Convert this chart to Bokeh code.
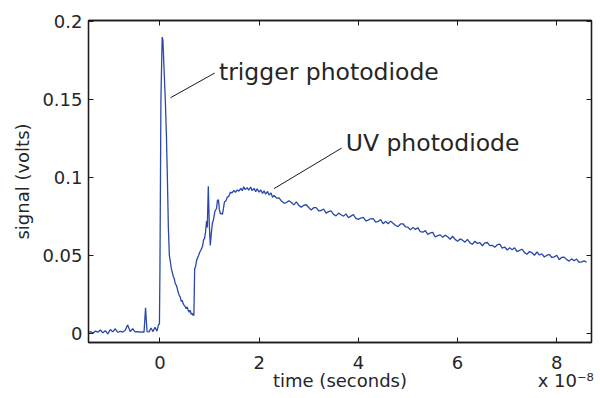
import numpy as np
from bokeh.plotting import figure
from bokeh.models import Range1d, LinearAxis, FixedTicker, Label, ColumnDataSource
from bokeh.embed import file_html
from bokeh.resources import INLINE

# time in units of 1e-8 s, signal in volts
base_t = [-1.45, -1.40, -1.35, -1.30, -1.25, -1.20, -1.15, -1.10, -1.05, -1.00,
          -0.95, -0.90, -0.85, -0.80, -0.75, -0.70, -0.65, -0.60, -0.55, -0.50,
          -0.45, -0.40, -0.35, -0.32, -0.29, -0.26, -0.22, -0.18, -0.14, -0.10,
          -0.06, -0.03]
base_v = [0.0005, 0.0012, 0.0003, 0.0015, 0.0008, 0.0022, 0.0004, 0.0018, -0.0003, 0.0025,
          0.0010, 0.0030, 0.0006, 0.0014, 0.0009, 0.0020, 0.0055, 0.0012, 0.0030, 0.0010,
          0.0012, 0.0008, 0.0010, 0.0009, 0.0165, 0.0012, 0.0010, 0.0035, 0.0012, 0.0040,
          0.0015, 0.0055]

pulse_t = [-0.01, 0.00, 0.02, 0.045, 0.06, 0.08, 0.11, 0.13, 0.15, 0.17,
           0.19, 0.21, 0.23, 0.25, 0.27, 0.29, 0.31, 0.33, 0.35, 0.37,
           0.39, 0.41, 0.43, 0.45, 0.47, 0.49, 0.51, 0.53, 0.55, 0.57,
           0.59, 0.61, 0.63, 0.65, 0.67, 0.685, 0.70, 0.72, 0.74, 0.76,
           0.78, 0.80, 0.82, 0.84, 0.86, 0.88, 0.90, 0.92, 0.94, 0.955,
           0.975, 0.995, 1.015, 1.035, 1.056, 1.08, 1.11, 1.14, 1.16, 1.18,
           1.20, 1.22, 1.24, 1.26, 1.28, 1.30, 1.33, 1.36, 1.39, 1.42,
           1.45, 1.49, 1.52, 1.56, 1.59, 1.63, 1.66, 1.69, 1.72, 1.76,
           1.79, 1.83, 1.86, 1.90, 1.93, 1.96, 2.00, 2.03, 2.07, 2.10,
           2.13, 2.17, 2.20, 2.24, 2.27, 2.30]
pulse_v = [0.0060, 0.0400, 0.1500, 0.1900, 0.1880, 0.1720, 0.1480, 0.1280, 0.1000, 0.0680,
           0.0500, 0.0460, 0.0415, 0.0390, 0.0365, 0.0350, 0.0318, 0.0310, 0.0288, 0.0262,
           0.0244, 0.0232, 0.0205, 0.0212, 0.0190, 0.0180, 0.0172, 0.0158, 0.0170, 0.0148,
           0.0137, 0.0149, 0.0122, 0.0130, 0.0115, 0.0118, 0.0415, 0.0430, 0.0470, 0.0485,
           0.0500, 0.0520, 0.0530, 0.0545, 0.0560, 0.0600, 0.0610, 0.0650, 0.0720, 0.0680,
           0.0944, 0.0700, 0.0564, 0.0640, 0.0703, 0.0730, 0.0785, 0.0800, 0.0853, 0.0856,
           0.0790, 0.0767, 0.0770, 0.0763, 0.0800, 0.0842, 0.0850, 0.0874, 0.0880, 0.0906,
           0.0900, 0.0917, 0.0905, 0.0920, 0.0912, 0.0930, 0.0915, 0.0940, 0.0922, 0.0935,
           0.0918, 0.0938, 0.0915, 0.0930, 0.0908, 0.0927, 0.0905, 0.0920, 0.0898, 0.0915,
           0.0893, 0.0910, 0.0888, 0.0900, 0.0872, 0.0885]

tail_start = 2.35
tail_step = 0.05
tail_v = [0.0868, 0.0869, 0.0849, 0.0836, 0.0839, 0.0851, 0.0839, 0.0824, 0.0844, 0.0821,
          0.0809, 0.0822, 0.0825, 0.0807, 0.0791, 0.0806, 0.0806, 0.0786, 0.0788, 0.0798,
          0.0771, 0.0781, 0.0785, 0.0763, 0.0754, 0.0771, 0.0761, 0.0752, 0.0766, 0.0742,
          0.0752, 0.0762, 0.0737, 0.0731, 0.0740, 0.0744, 0.0721, 0.0727, 0.0735, 0.0736,
          0.0714, 0.0718, 0.0730, 0.0703, 0.0717, 0.0703, 0.0720, 0.0706, 0.0692, 0.0685,
          0.0702, 0.0703, 0.0683, 0.0681, 0.0664, 0.0680, 0.0666, 0.0678, 0.0652, 0.0649,
          0.0659, 0.0635, 0.0644, 0.0648, 0.0618, 0.0627, 0.0632, 0.0616, 0.0630, 0.0620,
          0.0604, 0.0623, 0.0603, 0.0591, 0.0606, 0.0598, 0.0585, 0.0603, 0.0581, 0.0572,
          0.0591, 0.0577, 0.0582, 0.0562, 0.0581, 0.0583, 0.0563, 0.0565, 0.0553, 0.0569,
          0.0572, 0.0547, 0.0554, 0.0535, 0.0550, 0.0537, 0.0549, 0.0525, 0.0532, 0.0540,
          0.0518, 0.0508, 0.0525, 0.0517, 0.0501, 0.0522, 0.0503, 0.0510, 0.0490, 0.0501,
          0.0507, 0.0487, 0.0491, 0.0501, 0.0473, 0.0488, 0.0489, 0.0473, 0.0464, 0.0478,
          0.0466, 0.0477, 0.0456, 0.0459, 0.0465, 0.0457]

x_ticks = [0, 2, 4, 6, 8]
x_labels = ["0", "2", "4", "6", "8"]
y_ticks = [0, 0.05, 0.1, 0.15, 0.2]
y_labels = ["0", "0.05", "0.1", "0.15", "0.2"]
x_title = "time (seconds)"
x_exponent = "x 10\u207b\u2078"
y_title = "signal (volts)"

tail_t = list(np.round(tail_start + tail_step * np.arange(len(tail_v)), 3))
t_all = base_t + pulse_t + tail_t
v_all = base_v + pulse_v + tail_v

FONT = "DejaVu Sans"
TXT = "#262626"
X_MIN, X_MAX = -1.44, 8.70

p = figure(width=600, height=398, output_backend="svg", toolbar_location=None,
           x_range=Range1d(X_MIN, X_MAX), y_range=Range1d(-0.0058, 0.2006),
           min_border_left=88, min_border_right=9, min_border_top=20, min_border_bottom=56,
           x_axis_location=None, y_axis_location=None)
p.grid.visible = False
p.outline_line_color = "#1a1a1a"
p.outline_line_width = 1.3
p.background_fill_color = "white"
p.border_fill_color = "white"

def make_axis(ticks, labels, show_labels):
    ax = LinearAxis(ticker=FixedTicker(ticks=ticks))
    ax.major_label_overrides = {t: (l if show_labels else "") for t, l in zip(ticks, labels)}
    ax.major_tick_in = 5
    ax.major_tick_out = 0
    ax.minor_tick_in = 0
    ax.minor_tick_out = 0
    ax.major_tick_line_color = "#1a1a1a"
    ax.axis_line_color = "#1a1a1a"
    ax.axis_line_width = 1.3
    ax.major_label_text_font = FONT
    ax.major_label_text_font_size = "18px" if show_labels else "1px"
    ax.major_label_text_color = TXT
    ax.axis_label_text_font = FONT
    ax.axis_label_text_font_size = "18px"
    ax.axis_label_text_font_style = "normal"
    ax.axis_label_text_color = TXT
    return ax

xb = make_axis(x_ticks, x_labels, True)
xb.major_label_standoff = 13
p.add_layout(xb, "below")

# second row under the x axis: axis title centred on the frame, exponent at the right
title_pos = (X_MIN + X_MAX) / 2
exp_pos = 8.18
xb2 = LinearAxis(ticker=FixedTicker(ticks=[title_pos, exp_pos]))
xb2.major_label_overrides = {title_pos: x_title, exp_pos: x_exponent}
xb2.major_tick_in = 0
xb2.major_tick_out = 0
xb2.minor_tick_in = 0
xb2.minor_tick_out = 0
xb2.major_tick_line_color = None
xb2.minor_tick_line_color = None
xb2.axis_line_color = None
xb2.major_label_text_font = FONT
xb2.major_label_text_font_size = "18px"
xb2.major_label_text_color = TXT
xb2.major_label_standoff = -2
p.add_layout(xb2, "below")

yl = make_axis(y_ticks, y_labels, True)
yl.axis_label = y_title
yl.major_label_standoff = 6
yl.axis_label_standoff = 6
p.add_layout(yl, "left")

xt = make_axis(x_ticks, x_labels, False)
xt.major_label_standoff = 0
p.add_layout(xt, "above")
yr = make_axis(y_ticks, y_labels, False)
yr.major_label_standoff = 0
p.add_layout(yr, "right")

src = ColumnDataSource(dict(t=t_all, v=v_all))
p.line("t", "v", source=src, line_color="#2a48a8", line_width=1.3)

# annotation leader lines and texts (data coordinates)
ann_text = ["trigger photodiode", "UV photodiode"]
ann_tx = [1.19, 3.745]
ann_ty = [0.1678, 0.1222]
lead_x0 = [0.214, 2.298]
lead_y0 = [0.1511, 0.0928]
lead_x1 = [1.103, 3.663]
lead_y1 = [0.1669, 0.1188]

p.segment(x0=lead_x0, y0=lead_y0, x1=lead_x1, y1=lead_y1, line_color="#1a1a1a", line_width=1)
for txt, tx, ty in zip(ann_text, ann_tx, ann_ty):
    p.add_layout(Label(x=tx, y=ty, text=txt, text_font=FONT, text_font_size="23.5px",
                       text_color=TXT, text_baseline="alphabetic", text_align="left"))

open("out.html", "w").write(file_html(p, INLINE))
